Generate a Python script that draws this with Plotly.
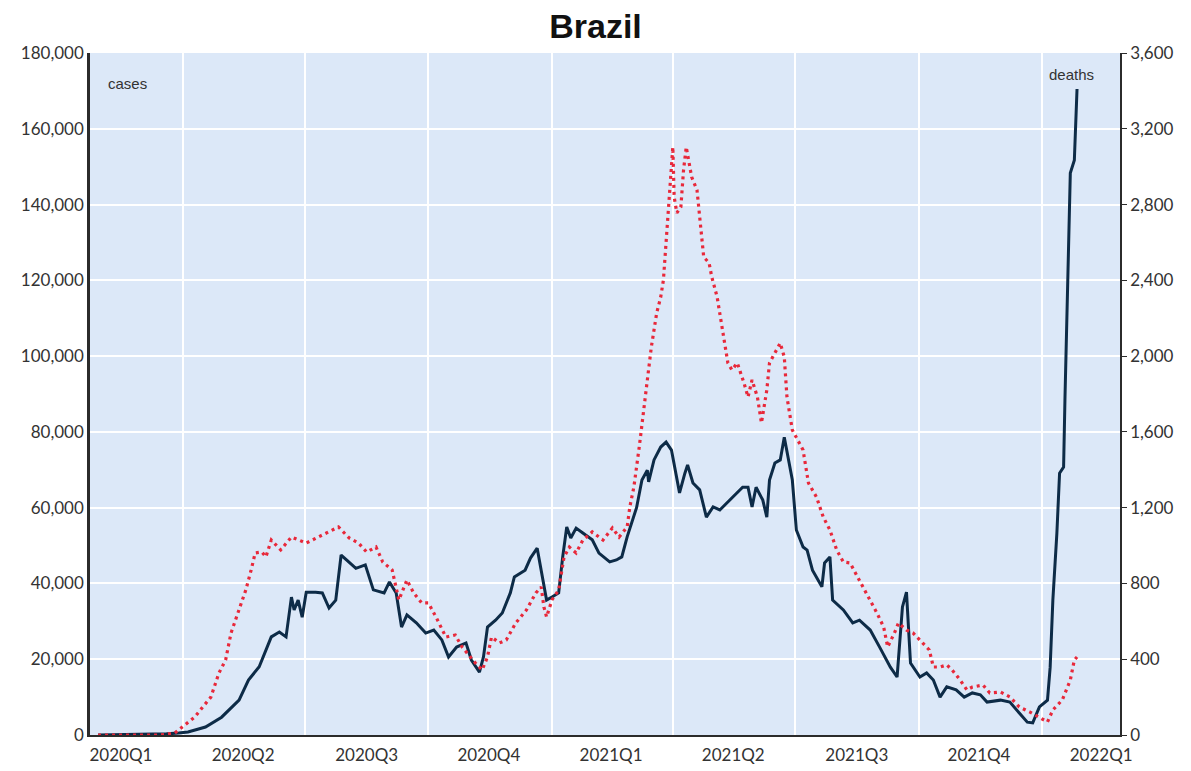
import plotly.graph_objects as go

# Brazil: daily new cases (7-day average, left axis) and daily deaths (right axis)
case_dates = [
    "2020-01-29", "2020-02-28", "2020-03-20", "2020-03-29", "2020-04-05", "2020-04-18",
    "2020-04-30", "2020-05-13", "2020-05-20", "2020-05-28", "2020-06-02", "2020-06-06",
    "2020-06-12", "2020-06-17", "2020-06-21", "2020-06-23", "2020-06-26", "2020-06-29",
    "2020-07-02", "2020-07-09", "2020-07-14", "2020-07-19", "2020-07-24", "2020-07-28",
    "2020-08-01", "2020-08-08", "2020-08-15", "2020-08-21", "2020-08-29", "2020-09-02",
    "2020-09-07", "2020-09-11", "2020-09-15", "2020-09-22", "2020-09-29", "2020-10-05",
    "2020-10-11", "2020-10-16", "2020-10-22", "2020-10-29", "2020-11-02", "2020-11-08",
    "2020-11-11", "2020-11-14", "2020-11-20", "2020-11-25", "2020-12-01", "2020-12-04",
    "2020-12-12", "2020-12-16", "2020-12-21", "2020-12-24", "2020-12-28", "2021-01-01",
    "2021-01-06", "2021-01-09", "2021-01-12", "2021-01-15", "2021-01-19", "2021-01-24",
    "2021-01-31", "2021-02-05", "2021-02-13", "2021-02-18", "2021-02-22", "2021-02-26",
    "2021-03-05", "2021-03-09", "2021-03-13", "2021-03-14", "2021-03-18", "2021-03-23",
    "2021-03-27", "2021-03-31", "2021-04-04", "2021-04-06", "2021-04-10", "2021-04-12",
    "2021-04-16", "2021-04-21", "2021-04-26", "2021-05-01", "2021-05-06", "2021-05-16",
    "2021-05-23", "2021-05-27", "2021-05-30", "2021-06-02", "2021-06-07", "2021-06-10",
    "2021-06-12", "2021-06-16", "2021-06-20", "2021-06-23", "2021-06-26", "2021-06-29",
    "2021-07-02", "2021-07-07", "2021-07-10", "2021-07-14", "2021-07-21", "2021-07-23",
    "2021-07-27", "2021-07-29", "2021-08-06", "2021-08-13", "2021-08-18", "2021-08-26",
    "2021-09-02", "2021-09-10", "2021-09-15", "2021-09-19", "2021-09-22", "2021-09-25",
    "2021-10-02", "2021-10-07", "2021-10-12", "2021-10-17", "2021-10-22", "2021-10-29",
    "2021-11-04", "2021-11-10", "2021-11-16", "2021-11-21", "2021-12-01", "2021-12-08",
    "2021-12-15", "2021-12-21", "2021-12-25", "2021-12-30", "2022-01-05", "2022-01-07",
    "2022-01-09", "2022-01-12", "2022-01-14", "2022-01-17", "2022-01-18", "2022-01-20",
    "2022-01-21", "2022-01-22", "2022-01-25", "2022-01-27",
]
case_values = [
    0, 100, 300, 500, 800, 2100,
    4700, 9200, 14500, 18000, 22400, 25900,
    27200, 25900, 36400, 33000, 35600, 31100,
    37700, 37700, 37500, 33500, 35600, 47500,
    46200, 44000, 44900, 38300, 37500, 40400,
    37500, 28500, 31700, 29600, 26900, 27700,
    25100, 20600, 23200, 24300, 19800, 16600,
    20600, 28500, 30300, 32200, 37500, 41700,
    43500, 46700, 49300, 43500, 35600, 36400,
    37500, 47000, 54900, 52000, 54600, 53300,
    51500, 48000, 45700, 46200, 47000, 52300,
    60000, 67300, 69900, 66800, 72600, 76000,
    77300, 75200, 67300, 63900, 69100, 71300,
    66500, 64700, 57500, 60200, 59400, 62800,
    65400, 65400, 60200, 65400, 62000, 57500,
    67300, 71800, 72600, 78600, 72600, 67300,
    54100, 49600, 48800, 43500, 39100, 45400,
    47000, 35600, 33000, 29600, 30300, 27700,
    23200, 17900, 15300, 33800, 37700, 19000,
    15300, 16400, 14500, 10000, 12700, 11900,
    10000, 11100, 10600, 8700, 9200, 8700,
    5800, 3400, 3200, 7400, 9200, 17900,
    35600, 53300, 69100, 70700, 88400, 114800,
    133000, 148300, 151700, 170500,
]

death_dates = [
    "2020-01-29", "2020-03-15", "2020-03-26", "2020-04-03", "2020-04-10", "2020-04-16",
    "2020-04-22", "2020-04-28", "2020-05-03", "2020-05-07", "2020-05-13", "2020-05-18",
    "2020-05-22", "2020-05-25", "2020-05-30", "2020-06-02", "2020-06-06", "2020-06-13",
    "2020-06-21", "2020-07-02", "2020-07-11", "2020-07-19", "2020-07-26", "2020-08-03",
    "2020-08-10", "2020-08-16", "2020-08-23", "2020-08-28", "2020-09-04", "2020-09-09",
    "2020-09-15", "2020-09-20", "2020-09-26", "2020-10-01", "2020-10-07", "2020-10-14",
    "2020-10-21", "2020-10-26", "2020-10-31", "2020-11-05", "2020-11-10", "2020-11-14",
    "2020-11-17", "2020-11-23", "2020-11-28", "2020-12-05", "2020-12-13", "2020-12-20",
    "2020-12-24", "2020-12-26", "2020-12-28", "2021-01-01", "2021-01-06", "2021-01-10",
    "2021-01-14", "2021-01-19", "2021-01-24", "2021-01-31", "2021-02-08", "2021-02-15",
    "2021-02-20", "2021-02-26", "2021-02-28", "2021-03-03", "2021-03-07", "2021-03-12",
    "2021-03-16", "2021-03-20", "2021-03-23", "2021-03-25", "2021-03-27", "2021-03-29",
    "2021-03-31", "2021-04-01", "2021-04-02", "2021-04-04", "2021-04-07", "2021-04-09",
    "2021-04-11", "2021-04-15", "2021-04-19", "2021-04-22", "2021-04-24", "2021-04-28",
    "2021-04-30", "2021-05-04", "2021-05-08", "2021-05-12", "2021-05-15", "2021-05-19",
    "2021-05-24", "2021-05-27", "2021-05-30", "2021-06-03", "2021-06-06", "2021-06-10",
    "2021-06-12", "2021-06-16", "2021-06-20", "2021-06-23", "2021-06-25", "2021-06-29",
    "2021-07-03", "2021-07-07", "2021-07-11", "2021-07-17", "2021-07-22", "2021-07-27",
    "2021-08-01", "2021-08-06", "2021-08-11", "2021-08-18", "2021-08-26", "2021-08-31",
    "2021-09-05", "2021-09-08", "2021-09-13", "2021-09-16", "2021-09-22", "2021-09-27",
    "2021-10-04", "2021-10-09", "2021-10-12", "2021-10-17", "2021-10-22", "2021-10-26",
    "2021-11-01", "2021-11-06", "2021-11-10", "2021-11-18", "2021-11-23", "2021-12-01",
    "2021-12-08", "2021-12-15", "2021-12-23", "2021-12-30", "2022-01-05", "2022-01-09",
    "2022-01-16", "2022-01-22", "2022-01-25", "2022-01-27",
]
death_values = [
    0, 0, 10, 53, 95, 148,
    200, 327, 396, 538, 660, 765,
    871, 961, 966, 940, 1029, 977,
    1045, 1013, 1045, 1072, 1098, 1040,
    1013, 966, 992, 913, 871, 713,
    818, 750, 697, 697, 618, 517,
    528, 465, 422, 380, 343, 412,
    517, 486, 502, 591, 660, 750,
    781, 676, 623, 713, 765, 940,
    992, 961, 1029, 1072, 1029, 1093,
    1045, 1098, 1204, 1309, 1520, 1821,
    2048, 2228, 2312, 2402, 2613, 2787,
    2983, 3104, 2840, 2756, 2787, 2983,
    3104, 2946, 2877, 2666, 2523, 2492,
    2418, 2312, 2138, 1964, 1927, 1964,
    1858, 1784, 1874, 1784, 1647, 1821,
    1964, 2017, 2069, 1995, 1784, 1610,
    1557, 1504, 1330, 1256, 1151, 1082,
    977, 913, 908, 818, 713, 644,
    570, 465, 538, 591, 554, 538,
    486, 449, 359, 359, 370, 343,
    290, 238, 253, 264, 222, 227,
    201, 148, 121, 95, 69, 132,
    185, 290, 396, 412,
]

# Quarter boundaries carry the vertical grid; labels sit mid-quarter
quarter_starts = [
    "2020-04-01", "2020-07-01", "2020-10-01", "2021-01-01",
    "2021-04-01", "2021-07-01", "2021-10-01", "2022-01-01",
]
quarter_mids = [
    "2020-02-15", "2020-05-16", "2020-08-16", "2020-11-15", "2021-02-14",
    "2021-05-16", "2021-08-16", "2021-11-15", "2022-02-14",
]
quarter_labels = [
    "2020Q1", "2020Q2", "2020Q3", "2020Q4", "2021Q1",
    "2021Q2", "2021Q3", "2021Q4", "2022Q1",
]

x_range = ["2020-01-23", "2022-02-28"]
tick_font = dict(family="Lato, 'Liberation Sans', sans-serif", size=17, color="#333333")
axis_color = "#2b2b2b"

fig = go.Figure()

fig.add_trace(go.Scatter(
    x=death_dates, y=death_values, name="deaths", mode="lines",
    line=dict(color="#e8283a", width=3.2, dash="3px,4px"),
    xaxis="x", yaxis="y2",
))
fig.add_trace(go.Scatter(
    x=case_dates, y=case_values, name="cases", mode="lines",
    line=dict(color="#0d2b47", width=3),
    xaxis="x", yaxis="y",
))

fig.update_layout(
    width=1191, height=771,
    margin=dict(l=90, r=71, t=53, b=36),
    paper_bgcolor="white",
    plot_bgcolor="#dce8f8",
    showlegend=False,
    title=dict(
        text="<b>Brazil</b>", x=0.5, xanchor="center", y=1 - 26 / 771, yanchor="middle",
        yref="container",
        font=dict(family="'Liberation Sans', Arial, sans-serif", size=34, color="#111111"),
    ),
    xaxis=dict(
        type="date", range=x_range, automargin=False,
        tickmode="array", tickvals=quarter_mids, ticktext=quarter_labels,
        ticks="", showgrid=False, tickfont=tick_font, ticklabelstandoff=4,
        minor=dict(tickmode="array", tickvals=quarter_starts, ticks="",
                   showgrid=True, gridcolor="white", gridwidth=1.5),
        showline=True, linecolor=axis_color, linewidth=2,
        zeroline=False,
    ),
    yaxis=dict(
        range=[0, 180000], tickmode="linear", tick0=0, dtick=20000, automargin=False,
        tickformat=",", ticks="", showgrid=True, gridcolor="white", gridwidth=1.5,
        showline=True, linecolor=axis_color, linewidth=2.5,
        zeroline=False, tickfont=tick_font,
    ),
    yaxis2=dict(
        range=[0, 3600], tickmode="linear", tick0=0, dtick=400, automargin=False,
        tickformat=",", overlaying="y", side="right", anchor="x",
        ticks="outside", ticklen=5, tickcolor=axis_color,
        showgrid=False, showline=True, linecolor=axis_color, linewidth=1.5,
        zeroline=False, tickfont=tick_font,
    ),
    annotations=[
        dict(text="cases", xref="paper", yref="paper", x=0.016, y=0.956,
             xanchor="left", yanchor="middle", showarrow=False,
             font=dict(family="'Liberation Sans', Arial, sans-serif", size=15, color="#333333")),
        dict(text="deaths", xref="paper", yref="paper", x=0.953, y=0.968,
             xanchor="center", yanchor="middle", showarrow=False,
             font=dict(family="'Liberation Sans', Arial, sans-serif", size=15, color="#333333")),
    ],
)

fig.write_html("out.html")
